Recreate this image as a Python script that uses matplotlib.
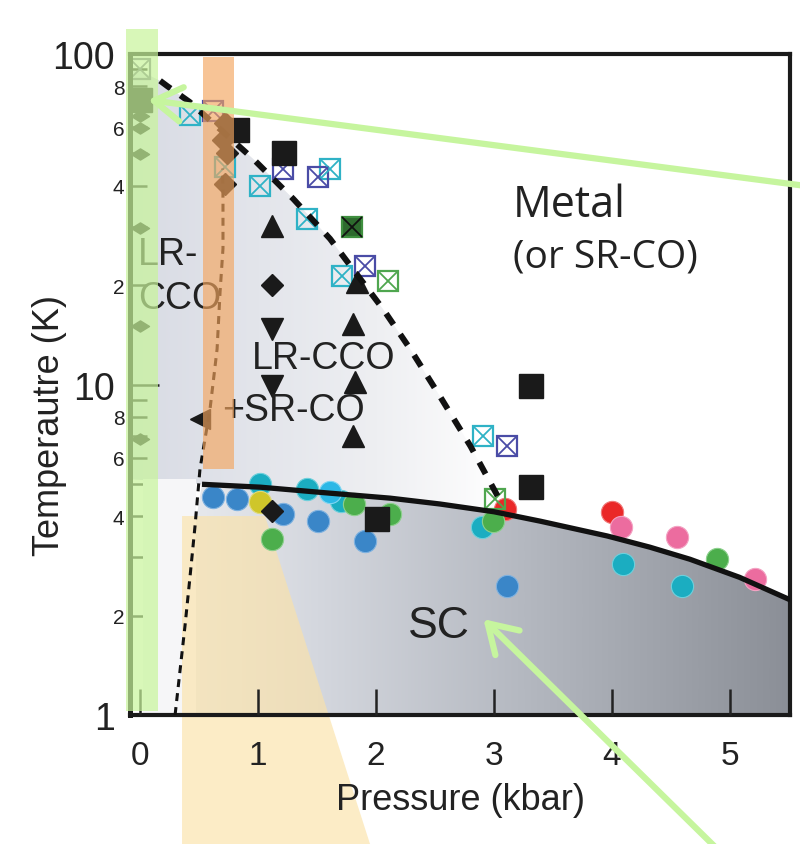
import numpy as np
import matplotlib
matplotlib.use('Agg')
import matplotlib.pyplot as plt
from matplotlib.patches import Polygon, Rectangle
from matplotlib.ticker import FixedLocator, FixedFormatter
from matplotlib.colors import to_rgb
from matplotlib.path import Path

plt.rcParams['font.family'] = ['Liberation Sans', 'DejaVu Sans']

# ---------------- data ----------------
x_ticks = [0, 1, 2, 3, 4, 5]
x_ticklabels = ['0', '1', '2', '3', '4', '5']
y_major = [1, 10, 100]
y_major_labels = ['1', '10', '100']
y_minor = [2, 3, 4, 5, 6, 7, 8, 9, 20, 30, 40, 50, 60, 70, 80, 90]
y_minor_labels = ['2', '', '4', '', '6', '', '8', '', '2', '', '4', '', '6', '', '8', '']

# charge-order boundary (thick dashed)
co_p = [0.17, 0.23, 0.42, 0.96, 1.30, 1.61, 2.06, 2.29, 2.54, 2.80, 3.03]
co_t = [83.0, 80.0, 71.6, 48.1, 36.4, 27.6, 16.9, 12.8, 9.23, 6.51, 4.6]
# superconducting Tc (solid)
tc_p = [0.525, 1.02, 1.61, 2.12, 2.54, 3.00, 3.39, 3.96, 4.32, 4.66, 5.08, 5.51]
tc_t = [4.99, 4.89, 4.69, 4.53, 4.35, 4.12, 3.86, 3.48, 3.22, 2.96, 2.61, 2.23]
# LR-CCO boundary (dotted)
lr_p = [0.297, 0.381, 0.424, 0.466, 0.508, 0.593, 0.653, 0.678, 0.703, 0.703, 0.70]
lr_t = [1.0, 1.86, 2.63, 3.73, 5.55, 8.42, 12.8, 19.0, 25.8, 36.4, 45.0]

# black filled markers
sq_p = [0.0, 0.82, 1.22, 2.01, 3.31, 3.31]
sq_t = [72.7, 59.0, 50.0, 3.92, 9.9, 4.9]
dia_p = [1.12, 1.12, 0.72, 0.70, 0.74, 0.72]
dia_t = [20.0, 4.14, 62.0, 55.0, 50.0, 40.4]
flat_p = [0.0, 0.0, 0.0, 0.0, 0.0, 0.0]
flat_t = [64.9, 59.7, 49.8, 29.8, 15.0, 6.84]
up_p = [1.12, 1.84, 1.805, 1.82, 1.805]
up_t = [30.1, 20.4, 15.2, 10.2, 7.0]
down_p = [1.12, 1.12]
down_t = [14.7, 9.9]
left_p = [0.508]
left_t = [7.87]

# crossed open squares
xs_cyan_p = [0.424, 0.72, 1.02, 1.61, 1.415, 1.71, 2.91]
xs_cyan_t = [65.5, 45.5, 39.8, 44.9, 31.7, 21.3, 6.98]
xs_navy_p = [0.62, 1.21, 1.51, 1.91, 3.11]
xs_navy_t = [67.0, 45.0, 42.4, 22.8, 6.52]
xs_green_p = [2.10, 3.01]
xs_green_t = [20.5, 4.5]
xs_dark_p = [1.80]
xs_dark_t = [30.0]
xs_gray_p = [0.0]
xs_gray_t = [90.1]

# circles (SC data)
c_blue_p = [0.62, 0.82, 1.21, 1.51, 1.91, 3.11]
c_blue_t = [4.57, 4.5, 4.06, 3.86, 3.36, 2.46]
c_teal_p = [1.02, 1.415, 1.70, 2.90, 4.09, 4.59]
c_teal_t = [4.99, 4.83, 4.45, 3.71, 2.86, 2.46]
c_sky_p = [1.61]
c_sky_t = [4.72]
c_red_p = [3.09, 4.0]
c_red_t = [4.2, 4.11]
c_pink_p = [4.08, 4.55, 5.21]
c_pink_t = [3.71, 3.45, 2.58]
c_yellow_p = [1.02]
c_yellow_t = [4.41]
c_green_p = [1.12, 1.81, 2.12, 2.99, 4.89]
c_green_t = [3.41, 4.35, 4.06, 3.86, 2.96]

XMIN, XMAX = -0.085, 5.508

# ---------------- figure ----------------
fig = plt.figure(figsize=(8.0, 8.45), dpi=100)
ax = fig.add_axes([130 / 800, (845 - 716) / 845, (790 - 130) / 800, (716 - 55) / 845])
ax.set_yscale('log')


def gradient_fill(verts, stops_x, stops_c, zorder=0):
    poly = Polygon(verts, closed=True, transform=ax.transData,
                   facecolor='none', edgecolor='none')
    ax.add_patch(poly)
    xs = np.linspace(XMIN, XMAX, 400)
    cols = np.array([to_rgb(c) for c in stops_c])
    img = np.stack([np.interp(xs, stops_x, cols[:, k]) for k in range(3)], axis=-1)
    img = np.repeat(img[None, :, :], 2, axis=0)
    im = ax.imshow(img, extent=(XMIN, XMAX, 1, 100), aspect='auto', origin='lower',
                   interpolation='bilinear', zorder=zorder)
    im.set_clip_path(poly)


# LR-CCO + SR-CO region (light)
lr_verts = ([(XMIN, 92.0)] + list(zip(co_p, co_t)) + [(3.03, 4.0)]
            + [(p, t) for p, t in zip(tc_p[::-1], tc_t[::-1]) if p <= 3.03]
            + [(XMIN, 5.17)])
gradient_fill(lr_verts, [XMIN, 1.0, 2.0, 3.1], ['#d8dbe4', '#e3e5eb', '#eeeff2', '#ffffff'])

# SC region (darker gradient)
sc_verts = (list(zip(tc_p, tc_t)) + [(XMAX, 1.0)]
            + [(p, t) for p, t in zip(lr_p, lr_t) if t < 4.9])
gradient_fill(sc_verts, [XMIN, 0.5, 1.5, 3.2, 5.5], ['#eceef2', '#e6e8ec', '#d4d7de', '#b5b9c1', '#8b8f97'])

# mask ticks in lower-left white corner
ax.add_patch(Rectangle((0.025, 1.0), 0.45, 4.17, facecolor='#f6f6f8', edgecolor='none', zorder=1.6))

# beige highlight (below the marks, like a highlighter)
ax.add_patch(Polygon([(0.356, 4.0), (1.059, 4.0), (1.949, 0.407), (0.356, 0.407)],
                     closed=True, facecolor='#fbe2a8', alpha=0.65, edgecolor='none',
                     zorder=1.7, clip_on=False))

# circles
ckw = dict(ls='none', marker='o', ms=16, mew=0.8, zorder=2)
ax.plot(c_blue_p, c_blue_t, mfc='#3a86c8', mec='#7fb2e0', **ckw)
ax.plot(c_teal_p, c_teal_t, mfc='#1badc1', mec='#6fd0dc', **ckw)
ax.plot(c_sky_p, c_sky_t, mfc='#2cb8e6', mec='#80d6f2', **ckw)
ax.plot(c_red_p, c_red_t, mfc='#ea2828', mec='#f07a7a', **ckw)
ax.plot(c_pink_p, c_pink_t, mfc='#ec6c9f', mec='#f3a3c3', **ckw)
ax.plot(c_yellow_p, c_yellow_t, mfc='#cfc62a', mec='#e0da7a', **ckw)
ax.plot(c_green_p, c_green_t, mfc='#4cae4c', mec='#8dd08d', **ckw)


# crossed squares
def crossed(p, t, ec, fc='none', xc=None):
    ax.plot(p, t, ls='none', marker='s', ms=15, mfc=fc, mec=ec, mew=1.6, zorder=2.2)
    ax.plot(p, t, ls='none', marker='x', ms=15, mec=xc or ec, mew=1.3, zorder=2.21)


crossed(xs_cyan_p, xs_cyan_t, '#2fb2c6')
crossed(xs_navy_p, xs_navy_t, '#4a4ca6')
crossed(xs_green_p, xs_green_t, '#4fa64f')
crossed(xs_dark_p, xs_dark_t, '#3f8f3f', fc='#2e6a2e', xc='#111111')
crossed(xs_gray_p, xs_gray_t, '#6f6f85')

# black markers
bk = dict(ls='none', color='#1a1a1a', zorder=2.5)
flat_marker = Path([(-1, 0), (0, 0.62), (1, 0), (0, -0.62), (-1, 0)],
                   [Path.MOVETO, Path.LINETO, Path.LINETO, Path.LINETO, Path.CLOSEPOLY])
ax.plot(sq_p, sq_t, marker='s', ms=17, **bk)
ax.plot(dia_p, dia_t, marker='D', ms=11.5, **bk)
ax.plot(flat_p, flat_t, marker=flat_marker, ms=13, **bk)
ax.plot(up_p, up_t, marker='^', ms=16, **bk)
ax.plot(down_p, down_t, marker='v', ms=16, **bk)
ax.plot(left_p, left_t, marker='<', ms=14, **bk)

# lines
ax.plot(co_p, co_t, color='#111111', lw=4.3, ls=(0, (2.2, 2.0)), zorder=3, dash_capstyle='butt')
ax.plot(tc_p, tc_t, color='#111111', lw=3.8, zorder=3, solid_capstyle='butt',
        solid_joinstyle='round')
ax.plot(lr_p, lr_t, color='#111111', lw=2.2, ls=(0, (2.6, 2.0)), zorder=3)

# region labels
tk = dict(color='#222222', va='center', ha='left', zorder=4)
ax.text(3.16, 35.0, 'Metal', fontsize=31, family=['Open Sans', 'DejaVu Sans'], **tk)
ax.text(3.16, 24.4, '(or SR-CO)', fontsize=28, family=['Open Sans', 'DejaVu Sans'], **tk)
ax.text(-0.017, 24.9, 'LR-', fontsize=27, **tk)
ax.text(-0.017, 18.3, 'CCO', fontsize=27, **tk)
ax.text(0.95, 12.0, 'LR-CCO', fontsize=27, **tk)
ax.text(0.695, 8.4, '+SR-CO', fontsize=27, **tk)
ax.text(2.27, 1.86, 'SC', fontsize=32, **tk)

# axes formatting
ax.set_xlim(XMIN, XMAX)
ax.set_ylim(1, 100)
ax.set_xticks(x_ticks)
ax.set_xticklabels(x_ticklabels)
ax.yaxis.set_major_locator(FixedLocator(y_major))
ax.yaxis.set_major_formatter(FixedFormatter(y_major_labels))
ax.yaxis.set_minor_locator(FixedLocator(y_minor))
ax.yaxis.set_minor_formatter(FixedFormatter(y_minor_labels))
ax.tick_params(axis='x', which='major', direction='in', length=19, width=1.8,
               labelsize=24, pad=18, colors='#222222')
ax.tick_params(axis='y', which='major', direction='in', length=21, width=1.8,
               labelsize=27, pad=11, colors='#222222')
ax.tick_params(axis='y', which='minor', direction='in', length=12, width=1.8,
               labelsize=15, pad=4, colors='#222222')
ax.xaxis.set_zorder(5)
for s in ax.spines.values():
    s.set_linewidth(3)
    s.set_color('#1a1a1a')
ax.spines['left'].set_linewidth(3.6)
ax.set_xlabel('Pressure (kbar)', fontsize=26, color='#222222', labelpad=8)
ax.set_ylabel('Temperautre (K)', fontsize=26, color='#222222')
ax.yaxis.set_label_coords(-0.096, 0.44)

# ---------------- highlight overlays ----------------
ax.add_patch(Rectangle((-0.119, 1.028), 0.272, 119 - 1.028, facecolor='#c8f59a', alpha=0.7,
                       edgecolor='none', zorder=10, clip_on=False))
ax.add_patch(Rectangle((0.534, 5.55), 0.263, 97.9 - 5.55, facecolor='#f4a55e', alpha=0.65,
                       edgecolor='none', zorder=10, clip_on=False))
aprops = dict(arrowstyle='->,head_length=1.0,head_width=0.62', color='#c6f59e', lw=4.5,
              mutation_scale=20, shrinkA=0, shrinkB=0)
ax.annotate('', xy=(0.068, 72.6), xytext=(5.85, 39.0), xycoords='data', textcoords='data',
            arrowprops=aprops, annotation_clip=False, zorder=11)
ax.annotate('', xy=(2.91, 1.95), xytext=(5.0, 0.36), xycoords='data', textcoords='data',
            arrowprops=aprops, annotation_clip=False, zorder=11)

fig.savefig('out.png', dpi=100)
